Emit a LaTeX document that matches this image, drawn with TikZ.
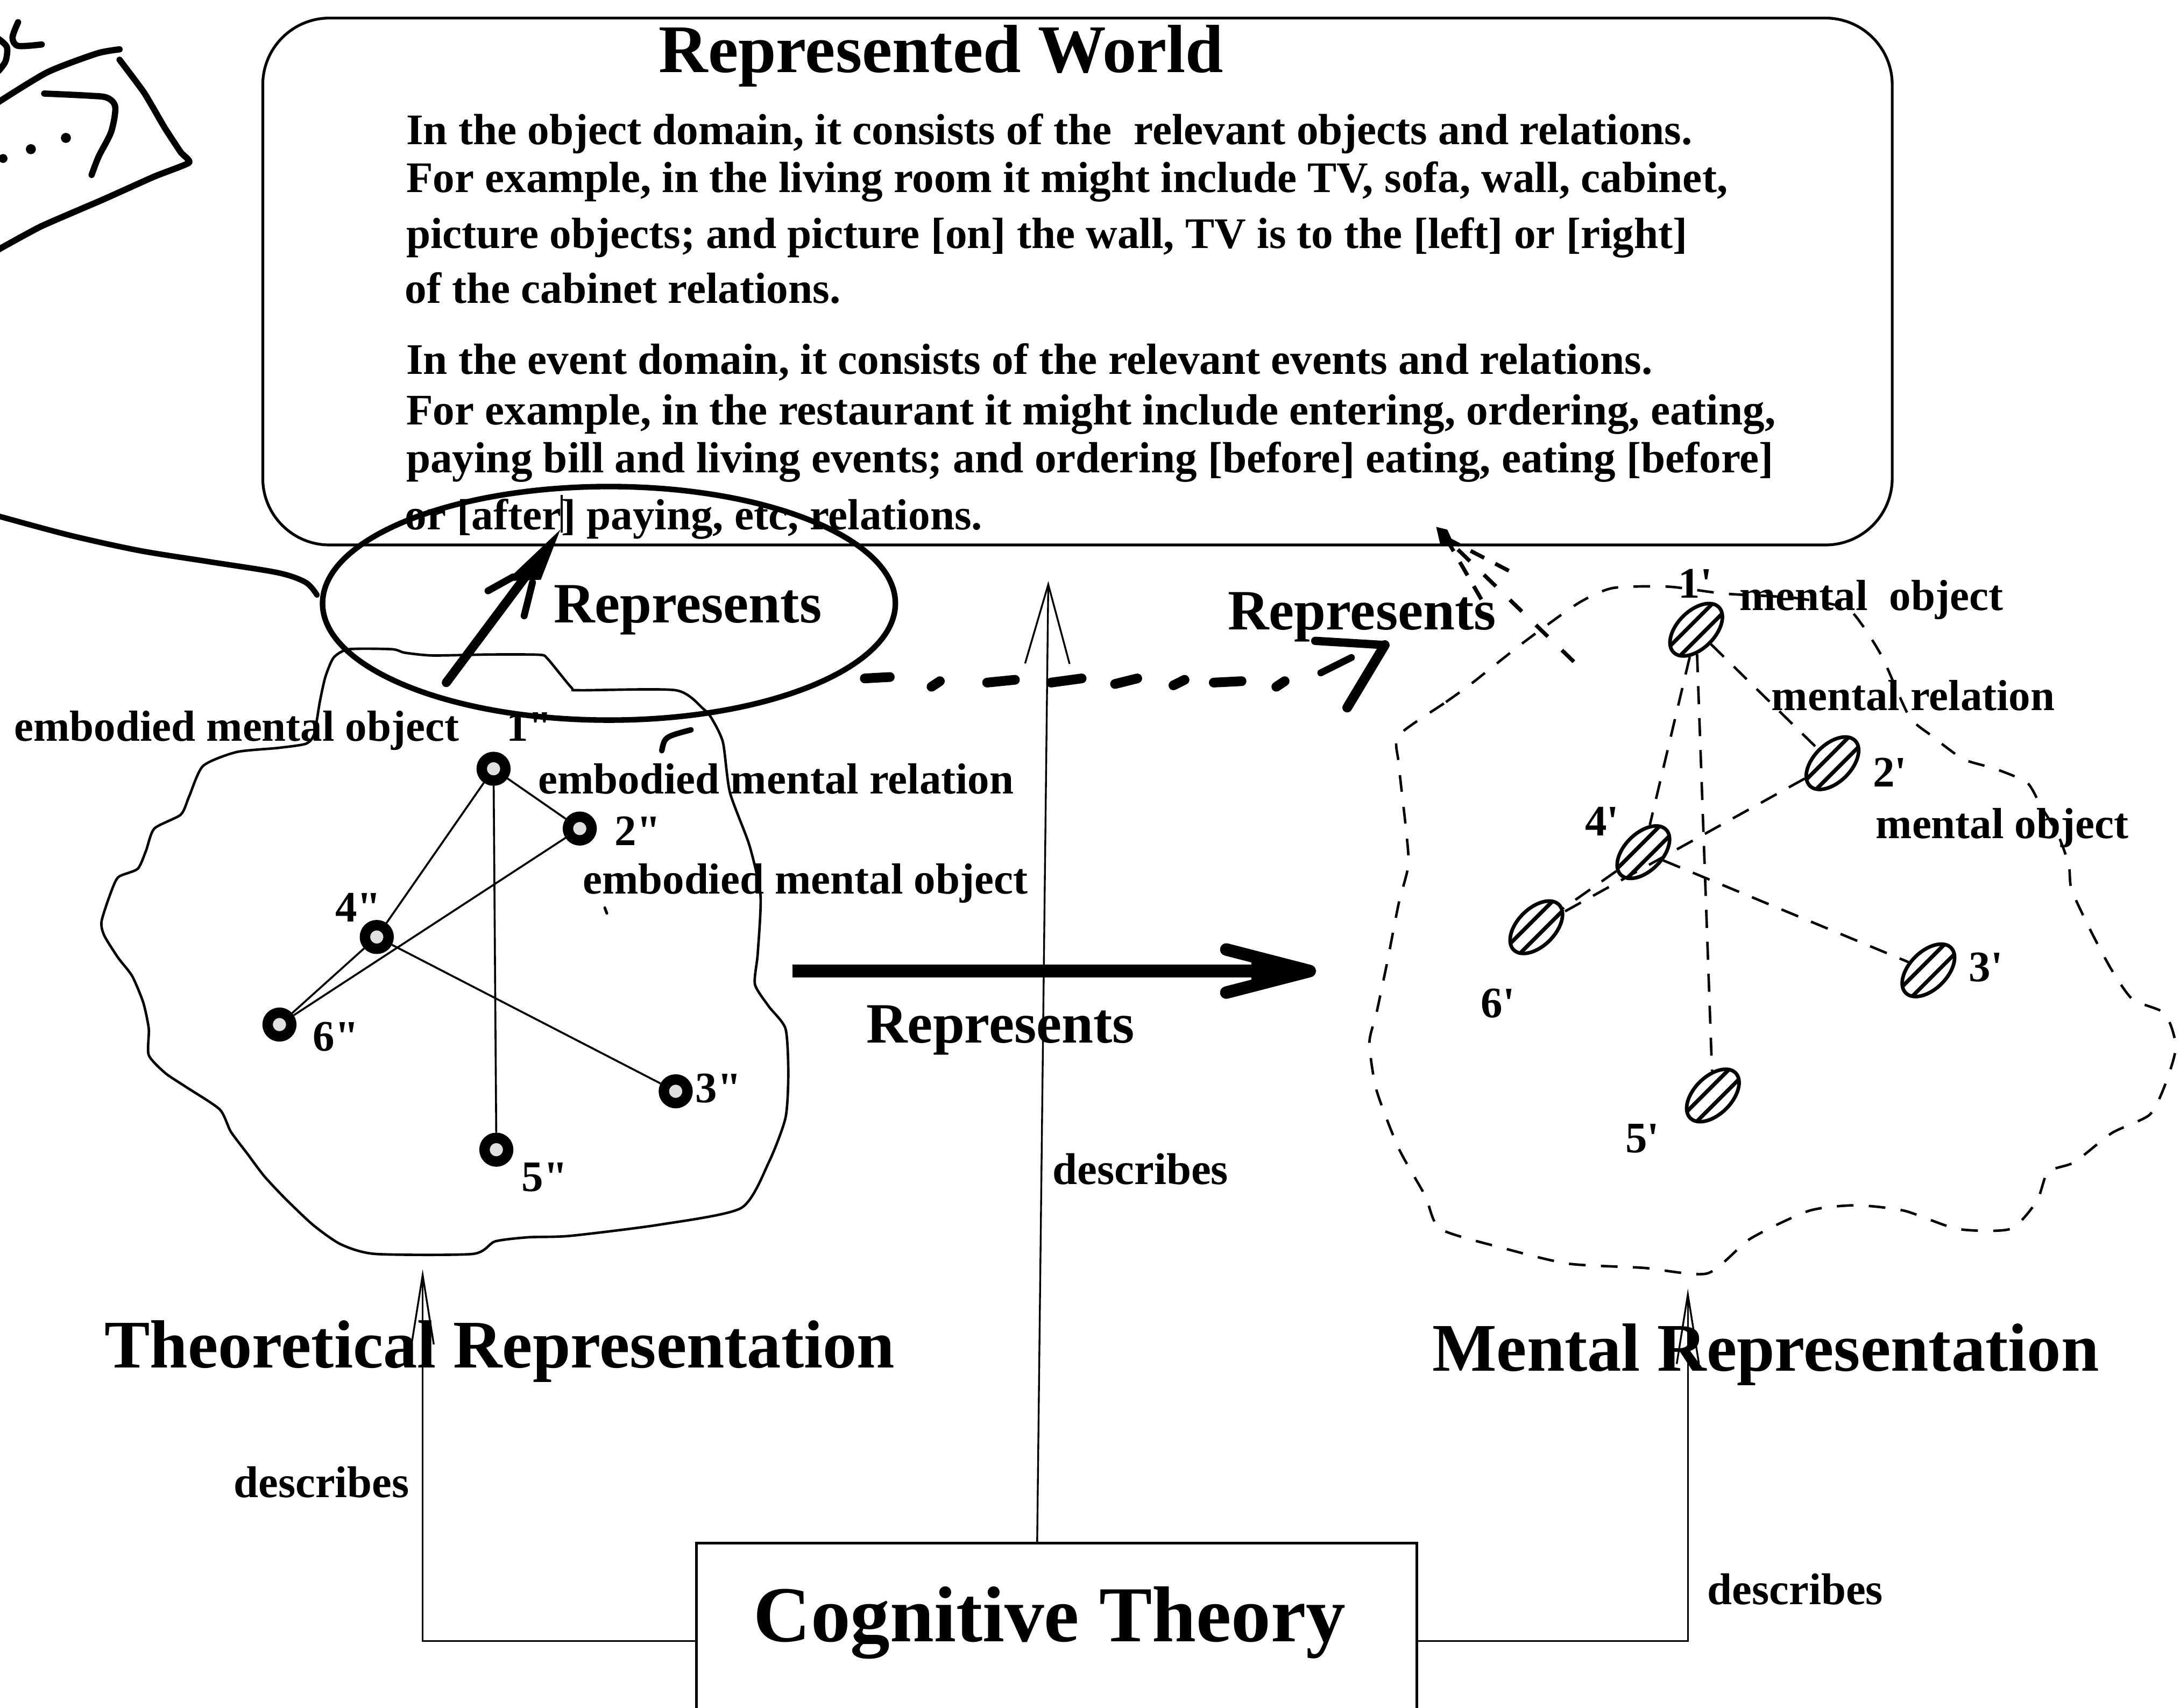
\documentclass[tikz,border=0pt]{standalone}
\usepackage{fontspec}
\setmainfont{Liberation Serif}
\usetikzlibrary{arrows.meta,shapes.geometric}
\newcommand{\sizebody}{\fontsize{31.4}{37}\selectfont\bfseries}
\newcommand{\sizelab}{\fontsize{31.3}{37}\selectfont\bfseries}
\newcommand{\sizerep}{\fontsize{41}{48}\selectfont\bfseries}
\newcommand{\sizetitle}{\fontsize{49}{58}\selectfont\bfseries}
\newcommand{\sizecog}{\fontsize{57}{66}\selectfont\bfseries}
\newcommand{\sizedesc}{\fontsize{32}{38}\selectfont\bfseries}
\tikzset{
  hatchfill/.pic={
    \begin{scope}
      \clip (0,0) ellipse [x radius=23, y radius=13.5];
      \draw[line width=2.8pt] (-27,-5) -- (27,-5) (-27,5) -- (27,5);
    \end{scope}
  }
}
\begin{document}
\begin{tikzpicture}[x=1pt, y=-1pt,
  every node/.style={inner sep=0pt},
  body/.style={anchor=base west, font=\sizebody},
  lab/.style={anchor=base west, font=\sizelab},
  big/.style={anchor=base west, font=\sizetitle},
  repl/.style={anchor=base west, font=\sizerep},
  desc/.style={anchor=base west, font=\sizedesc},
  blob/.style={line width=1.8pt},
  ink/.style={line width=4.5pt, line cap=round, line join=round},
  tnode/.style={circle, draw, line width=7.5pt, fill=black!12, minimum size=17pt},
  tedge/.style={line width=1.4pt},
  mnode/.style={ellipse, draw, line width=2.6pt, minimum width=46pt, minimum height=27pt, rotate=45},
  medge/.style={line width=1.8pt, dash pattern=on 13pt off 10pt},
  descr/.style={line width=1.3pt, -{Straight Barb[length=50pt, width=16pt]}},
]
\path[use as bounding box] (0,0) rectangle (1568,1228.3);
\clip (0,0) rectangle (1568,1228.3);

% ---------- scribbled note in the corner ----------
\draw[ink] plot[smooth, tension=0.5] coordinates {(13,16) (9,27) (13,33) (30,32)};
\draw[ink] plot[smooth, tension=0.5] coordinates {(-1,28) (5,34) (4,44) (-1,51)};
\draw[ink] plot[smooth, tension=0.4] coordinates {(-2,74) (34,52) (69.6,38.5) (86,35.5)};
\draw[ink] plot[smooth, tension=0.3] coordinates {(86,43) (103.6,66.6) (118.4,91.8) (130,109.5) (136,117) (111,127) (74,143.6) (29.6,162.8) (-2,180)};
\draw[ink] plot[smooth, tension=0.5] coordinates {(31.8,67.3) (63.6,68.8) (77,70.3) (82.9,77) (80,94.7) (71,112.5) (65.9,125.8)};
\fill (47.4,99.2) circle (3.6) (22.2,107.3) circle (3.6) (2.2,114) circle (3.2);
\draw[line width=4pt, line cap=round] plot[smooth, tension=0.5] coordinates {(-2,371) (50,385) (100,396) (150,404) (200,412) (220,419) (228,428)};

% ---------- represented world ----------
\node[draw, line width=2pt, rounded corners=48pt, minimum width=1172pt, minimum height=379pt, anchor=north west] (world) at (188,12) {};
\node[anchor=base, font=\sizetitle] (title) at (677,52) {Represented World};
\node[body] (w1) at (292,104) {In the object domain, it consists of the\ \ relevant objects and relations.};
\node[body] (w2) at (292,138.5) {For example, in the living room it might include TV, sofa, wall, cabinet,};
\node[body] (w3) at (292,178.5) {picture objects; and picture [on] the wall, TV is to the [left] or [right]};
\node[body] (w4) at (291,218) {of the cabinet relations.};
\node[body] (w5) at (292,269) {In the event domain, it consists of the relevant events and relations.};
\node[body] (w6) at (292,305.5) {For example, in the restaurant it might include entering, ordering, eating,};
\node[body] (w7) at (292,340) {paying bill and living events; and ordering [before] eating, eating [before]};
\node[body] (w8) at (291,381) {or [after] paying, etc, relations.};

% ---------- loop drawn round the first "Represents" ----------
\node[ellipse, draw, line width=4pt, minimum width=412pt, minimum height=168pt] (loop) at (438,434) {};
\node[repl] (rep1) at (398,448) {Represents};
\draw[line width=6.5pt, line cap=round] (321,491) -- (392,396);
\fill (403,381) -- (364,418) -- (389,417) -- cycle;
\draw[line width=5pt, line cap=round] (351,425) -- (369,415) (377,443) -- (383,419);
\draw[line width=1.5pt] (404,383) -- (404,356);

% ---------- theoretical representation ----------
\draw[blob] plot[smooth cycle, tension=0.4] coordinates {
 (226,528) (230,505) (234,487) (240,473) (251,467) (282,467) (291,469.5) (311,471.5)
 (352,470.8) (388,471) (394,474) (411,494.6) (417,496.5) (486,496.5) (506,510) (512,517)
 (520,534) (525,570) (539,608) (547,644) (545,686) (543,708) (553,724) (565,740)
 (567,772) (565,804) (553,836) (533,869) (474,881) (410,889) (380,890) (356,893)
 (340,902) (270,902) (245,895) (225,881) (205,862) (190,846) (178,830) (166,814)
 (158,798) (134,782) (119,772) (107,759) (107,740) (103,721) (95,702) (85,689)
 (75,673) (73,663) (79,644) (85,631) (99,625) (105,612) (111,596) (130,586)
 (136,573) (146,551) (170,541) (200,538) (220,535)};
\draw[line width=4pt, line cap=round] (476,540) .. controls (478,530) .. (497,525);
\draw[line width=2pt, line cap=round] (435,653) -- (436.5,657);

\node[tnode] (th1) at (355,553) {};
\node[tnode] (th2) at (417,596) {};
\node[tnode] (th4) at (271,674) {};
\node[tnode] (th6) at (201,737) {};
\node[tnode] (th3) at (486,785) {};
\node[tnode] (th5) at (357,827) {};
\draw[tedge] (th1) -- (th4);
\draw[tedge] (th1) -- (th2);
\draw[tedge] (th1) -- (th5);
\draw[tedge] (th2) -- (th6);
\draw[tedge] (th4) -- (th6);
\draw[tedge] (th4) -- (th3);

\node[lab] (lth1) at (364,533) {1\textquotedbl};
\node[lab] (lth2) at (442,608) {2\textquotedbl};
\node[lab] (lth4) at (241,663) {4\textquotedbl};
\node[lab] (lth6) at (225,756) {6\textquotedbl};
\node[lab] (lth3) at (500,793) {3\textquotedbl};
\node[lab] (lth5) at (375,857) {5\textquotedbl};
\node[lab] (emo1) at (10,533) {embodied mental object};
\node[lab] (emr) at (387,571) {embodied mental relation};
\node[lab] (emo2) at (419,643) {embodied mental object};

% ---------- arrows between the two representations ----------
\foreach \a/\b/\c/\d in {622/488/640/487, 670/494/676/490, 710/491/730/489, 756/491/778/488,
                         802/492/818/488, 844/493/852/489, 873/491/893/490, 918/494/924/490}
  \draw[line width=7pt, line cap=round] (\a,\b) -- (\c,\d);
\draw[line width=6pt, line cap=round] (946,461) -- (996,464);
\draw[line width=7pt, line cap=round, line join=round] (996,464) -- (969,509);
\draw[line width=5pt, line cap=round] (950,484) -- (972,473);
\node[repl] (rep3) at (883,453) {Represents};

\draw[line width=9pt] (570,698.5) -- (930,698.5);
\fill (947,698.5) -- (900,685) -- (900,712) -- cycle;
\draw[line width=9pt, line cap=round, line join=round] (882,683) -- (942,698.5) -- (882,714);
\node[repl] (rep2) at (623,750) {Represents};

% ---------- mental representation ----------
\draw[blob, dash pattern=on 12pt off 11pt] plot[smooth cycle, tension=0.4] coordinates {
 (1006,529) (1040,505) (1058,492) (1096,462) (1135,434) (1160,423) (1200,422) (1240,427)
 (1290,430) (1327,437) (1339,449) (1354,473) (1373,515) (1389,529) (1412,546) (1435,553)
 (1458,563) (1468,580) (1480,600) (1488,622) (1490,640) (1504,670) (1519,698) (1534,719)
 (1557,729) (1565,753) (1557,781) (1546,802) (1519,815) (1492,836) (1473,843) (1465,864)
 (1446,884) (1408,884) (1370,871) (1335,867) (1301,871) (1259,891) (1228,916) (1182,912)
 (1128,909) (1082,898) (1036,884) (1025,860) (1006,826) (990,784) (985,750) (990,729)
 (998,691) (1006,650) (1013,622) (1011,594) (1006,549)};

\node[mnode] (mn1) at (1220,453) {};
\node[mnode] (mn2) at (1318,549) {};
\node[mnode] (mn4) at (1182,613) {};
\node[mnode] (mn6) at (1105,667) {};
\node[mnode] (mn3) at (1387,698) {};
\node[mnode] (mn5) at (1232,788) {};
\foreach \n in {mn1,mn2,mn3,mn4,mn5,mn6}
  \pic[rotate=45] at (\n) {hatchfill};
\draw[medge] (mn1) -- (mn4);
\draw[medge] (mn1) -- (mn2);
\draw[medge] (mn1) -- (mn5);
\draw[medge] (mn2) -- (mn6);
\draw[medge] (mn4) -- (mn6);
\draw[medge] (mn4) -- (mn3);

\node[lab] (lmn1) at (1207,430) {1\textquotesingle};
\node[lab] (mo1) at (1251,439) {mental\ \ object};
\node[lab] (mr) at (1274,511) {mental relation};
\node[lab] (lmn2) at (1347,566) {2\textquotesingle};
\node[lab] (mo2) at (1349,603) {mental object};
\node[lab] (lmn4) at (1140,601) {4\textquotesingle};
\node[lab] (lmn3) at (1416,706) {3\textquotesingle};
\node[lab] (lmn6) at (1065,732) {6\textquotesingle};
\node[lab] (lmn5) at (1169,829) {5\textquotesingle};

% dashed pointer from the mental side up to the world box
\draw[line width=2.8pt, dash pattern=on 12pt off 14pt] (1132,476) -- (1040,387);
\draw[line width=2.8pt, dash pattern=on 11pt off 9pt] (1040,387) -- (1066,432);
\draw[line width=2.8pt, dash pattern=on 11pt off 9pt] (1040,387) -- (1088,412);
\fill (1033,379) -- (1041,381) -- (1046,392) -- (1036,392) -- cycle;

% ---------- titles ----------
\node[big] (theo) at (75,984) {Theoretical Representation};
\node[big] (ment) at (1030,986) {Mental Representation};

% ---------- cognitive theory and what it describes ----------
\node[draw, line width=2pt, minimum width=518pt, minimum height=141pt, anchor=north west] (cog) at (500,1109) {};
\node[anchor=base, font=\sizecog] (cogtext) at (755,1181) {Cognitive Theory};
\coordinate (ttip) at (304,913);
\coordinate (mtip) at (1214,927);
\coordinate (wtip) at (754,418);
\draw[descr] (cog.west) -| (ttip);
\draw[descr] (cog.east) -| (mtip);
\draw[descr, -{Straight Barb[length=57pt, width=32pt]}] ([xshift=-14pt]cog.north) -- (wtip);
\node[desc] (d1) at (168,1077) {describes};
\node[desc] (d2) at (1228,1154) {describes};
\node[desc] (d3) at (757,852) {describes};
\end{tikzpicture}
\end{document}
